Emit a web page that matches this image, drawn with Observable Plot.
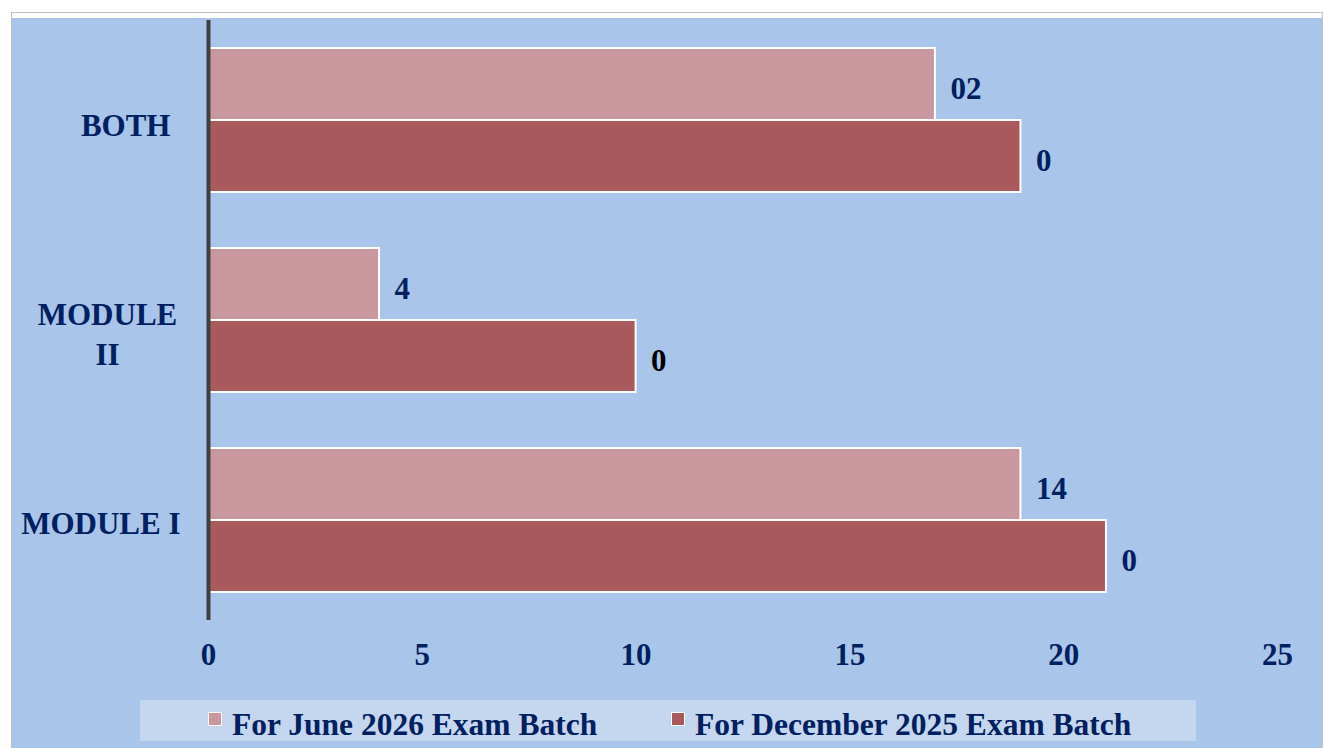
<!DOCTYPE html>
<html>
<head>
<meta charset="utf-8">
<script src="https://cdn.jsdelivr.net/npm/d3@7"></script>
<script src="https://cdn.jsdelivr.net/npm/@observablehq/plot@0.6"></script>
<style>
  html, body { margin: 0; padding: 0; background: #ffffff; }
  body { width: 1323px; height: 748px; overflow: hidden; position: relative; }
  #frame { position: absolute; left: 11px; top: 12px; width: 1312px; height: 736px; box-sizing: border-box;
           border: 1px solid #c0c0c0; border-bottom: none; padding-top: 5px; background: #ffffff; }
  #panel { position: relative; width: 1310px; height: 730px; background: #a9c5e9; }
  #chart { position: absolute; left: 0; top: 0; }
  #legend { position: absolute; left: 128px; top: 682px; width: 1056px; height: 41px; background: #c5d7ee;
            font-family: "Liberation Serif", "Times New Roman", serif; font-weight: bold; font-size: 31.5px; color: #002060; }
  .item { position: absolute; top: 0; height: 41px; line-height: 41px; white-space: nowrap; }
  .sw { position: absolute; top: 12px; left: 0; width: 12px; height: 12px; border: 1px solid #ffffff; }
  .lab { position: absolute; left: 24px; top: 4px; }
</style>
</head>
<body>
<div id="frame"><div id="panel"><div id="chart"></div><div id="legend"></div></div></div>
<script>
// ---- data ----
const categories = ["BOTH", "MODULE II", "MODULE I"];
const seriesNames = ["For June 2026 Exam Batch", "For December 2025 Exam Batch"];
const juneValues = [17, 4, 19];
const decemberValues = [19, 10, 21];
const juneLabels = ["02", "4", "14"];
const decemberLabels = ["0", "0", "0"];
const xTicks = [0, 5, 10, 15, 20, 25];

// ---- styling ----
const seriesColors = {[seriesNames[0]]: "#c9989f", [seriesNames[1]]: "#a9585c"};
const navy = "#002060";
const font = '"Liberation Serif", "Times New Roman", serif';

const data = categories.flatMap((c, i) => [
  {cat: c, series: seriesNames[0], value: juneValues[i], label: juneLabels[i]},
  {cat: c, series: seriesNames[1], value: decemberValues[i], label: decemberLabels[i]}
]);

const labelFill = d => (d.cat === "MODULE II" && d.series === seriesNames[1]) ? "#000000" : navy;

const catLabel = (c, opts) => Plot.text([c], {
  fy: d => d, frameAnchor: "left", text: d => d, fill: navy,
  fontSize: 31, fontWeight: "bold", ...opts
});

const chart = Plot.plot({
  width: 1310, height: 680,
  marginLeft: 196, marginRight: 45, marginTop: 2, marginBottom: 78,
  style: {background: "transparent", fontFamily: font, fontWeight: "bold", fontSize: "31px", color: navy},
  x: {domain: [0, 25], label: null},
  y: {domain: seriesNames, axis: null, paddingInner: 0, paddingOuter: 0.38},
  fy: {domain: categories, axis: null, padding: 0},
  color: {type: "identity"},
  marks: [
    Plot.barX(data, {fy: "cat", y: "series", x: "value", fill: d => seriesColors[d.series], stroke: "#ffffff", strokeWidth: 2}),
    Plot.text(data, {fy: "cat", y: "series", x: "value", text: "label", dx: 15, dy: 5, textAnchor: "start",
                     fill: labelFill, fontSize: 31, fontWeight: "bold"}),
    Plot.ruleX([0], {stroke: "#404040", strokeWidth: 4}),
    Plot.axisX(xTicks, {tickSize: 0, tickPadding: 22, fontSize: 31, fontWeight: "bold", color: navy, fill: navy, label: null}),
    catLabel(categories[0], {dx: -38, dy: 6, textAnchor: "end"}),
    catLabel(categories[1], {text: d => d.replace(" ", "\n"), dx: -101, dy: 12, textAnchor: "middle", lineHeight: 1.29}),
    catLabel(categories[2], {dx: -28, dy: 4, textAnchor: "end"})
  ]
});
document.getElementById("chart").appendChild(chart);

// ---- legend ----
const legend = document.getElementById("legend");
const itemLeft = [68, 531];
seriesNames.forEach((s, i) => {
  const item = document.createElement("div");
  item.className = "item";
  item.style.left = itemLeft[i] + "px";
  const sw = document.createElement("div");
  sw.className = "sw";
  sw.style.background = seriesColors[s];
  const lab = document.createElement("span");
  lab.className = "lab";
  lab.textContent = s;
  item.appendChild(sw); item.appendChild(lab);
  legend.appendChild(item);
});
</script>
</body>
</html>
